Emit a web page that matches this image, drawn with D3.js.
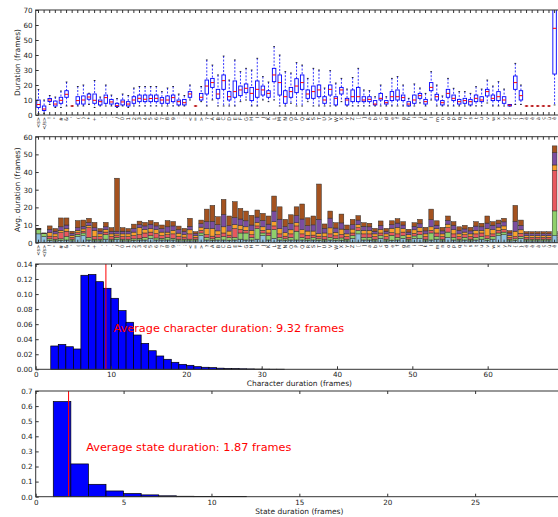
<!DOCTYPE html>
<html>
<head>
<meta charset="utf-8">
<script src="https://cdnjs.cloudflare.com/ajax/libs/d3/7.8.5/d3.min.js"></script>
<style>
body { margin: 0; background: #fff; overflow: hidden; }
text { font-family: "DejaVu Sans", sans-serif; }
</style>
</head>
<body>
<script>
var width = 558;
var height = 517;

// character classes (last one falls outside the cropped figure)
var chars = ["<s>", "</s>", "!", "\"", "#", "&", "'", "(", ")", "*", "+", ",", "-", ".", "/",
    "0", "1", "2", "3", "4", "5", "6", "7", "8", "9", ":", ";", "<", "=", ">", "?",
    "A", "B", "C", "D", "E", "F", "G", "H", "I", "J", "K", "L", "M", "N", "O", "P", "Q", "R",
    "S", "T", "U", "V", "W", "X", "Y", "Z", "[", "]",
    "a", "b", "c", "d", "e", "f", "g", "h", "i", "j", "k", "l", "m", "n", "o", "p", "q", "r",
    "s", "t", "u", "v", "w", "x", "y", "z", "{", "}", "é", "è", "à", "ç", "ù", "ê", "ô"];

// box plot stats per character (frames)
var boxLo = [1,1,7,5,5,6,6,6,6,7, 5,6,6,6,5,6,5,6,6,6, 6,6,6,6,6,6,6,10,6,8.9,
    6,10,6,6,6,6,8.9,10,6,6, 10,8.9,10,6,6,7.8,6,6,8.9,6, 6,6,6,6,8.9,6,6,6,6,6,
    6,6,6,6,6,6,6,6,8,6, 10,6,6,6,6,6,6,6,6,6, 8,6,6,6,6,7,7,6,6,6, 6,6,6.7,6];
var boxQ1 = [5,3,9,6,7.8,11.8,6,7.3,7.3,10.5, 7.8,6.7,7.8,7.3,5.6,6.7,6,7.8,8.9,8.9,
    8.9,8.9,7.8,7.8,8.9,6.7,6.7,11.8,6,10, 14,18.4,11.1,17.1,10,11.8,12.9,14.9,9.6,11.8,
    13.3,11.8,22.2,13.3,7.8,11.8,14.9,17.1,11.1,11.1, 12.2,7.8,13.3,6.7,14,6.7,8.9,8.9,8.9,8.9,
    6.7,10,7.3,9.6,10,9.6,6,7.8,11.1,7.3, 16.2,10,6.7,11.8,9.6,7.3,7.8,6.7,8.9,8.9,
    12.7,9.6,9.6,7.8,6,17.1,10,6,6,6, 6,6,27.3,6];
var boxMed = [7,4,10,7.3,9.8,13.8,6,9.6,10,12, 9.8,8.9,11.6,8.7,6.2,8.7,7.3,10,11.1,10.5,
    11,11.1,10,10,11.6,8.9,8.2,14,6,11.8, 19.3,21.6,14,22.9,12.2,15.6,16.7,17.8,14.4,17.1,
    16.7,14.4,26.7,21.6,12.2,15.6,19.3,21.6,14,15.6, 16.7,10,17.1,11.1,16.7,10,12.2,12.2,10,10.4,
    7.3,11.1,8.2,12.2,12.2,11.6,7.3,10,12.9,8.9, 18.4,12.2,8.2,14.4,11.1,8.9,9.6,8.9,11.1,10,
    15.6,11.1,12.2,10,6.5,21.6,12.9,6,6,6, 6,6,57.8,6];
var boxQ3 = [10,6,11,9.3,11.8,16.2,6,12.2,12.7,14, 14,10,13.3,10.4,7.8,10,8.9,12.2,13.3,13.3,
    13.3,13.3,11.6,12.7,13.3,10,10.4,15.6,6,14.4, 23.3,24.4,17.1,26.7,15.6,22.7,19.3,20.7,18.4,22.7,
    19.3,16.2,31.1,26.7,16.2,18.4,24.2,26.7,16.7,19.3, 20,12.2,20,12.2,18.4,11.1,16.7,18.4,12.2,12.2,
    9.6,14.4,9.6,15.6,16.7,13.3,8.9,13.3,14.4,10.4, 21.6,13.8,9.6,17.1,13.3,10.4,11.1,10.4,13.3,12.2,
    17.1,13.3,15.6,12.2,7,26,16.2,6,6,6, 6,6,75,6];
var boxHi = [17,10,13,12,16,22,6,19,20,14.5, 23,12,20,13.3,11,14,13,18,19,19,
    19,19,15.6,18,19,14,13,20,6,19, 36.7,33.3,26.7,39.3,23.3,36.7,28.9,31.1,30,37.8,
    25.6,22,45.6,40,28.9,28,34.9,33.3,24.4,31.1, 30,18,29.6,21.3,24.4,17.3,25,31.1,16.7,16.2,
    12.2,20,12.2,24.4,25.6,20,11.1,20.7,18,14.4, 28.9,20,12.7,24.4,17.8,15.6,15.6,14.4,18.9,17.3,
    23.3,19.3,22.2,17.3,7,34.4,20,6,6,6, 6,6,90,6];

// average duration of each HMM state per character (frames)
var state1 = [5,3.5,1.2,1,1.2,1.5,1,3.5,4,1.5, 1,1,2,1,2,1,1,1.2,1.5,1.5, 2.5,1.5,1.5,1.5,1.5,1,1,1,1,4,
    1.5,1.2,1.5,1.5,1.3,1.5,2,1.5,1.5,2, 4,1.5,2.5,1.5,1.2,1.5,1.5,1.5,1.2,1.5, 1.2,1,1.5,1.2,1.2,1,2.5,5,1.5,1.5,
    1,2.5,1,1.2,1.5,2.5,1,2.5,2.5,1, 1.5,2,1,3,1.5,1,1.5,1,1.5,2, 1.2,2,4,4.5,1,1.2,2.5,1,1,1, 1,1,4,1];
var state2 = [2.6,1.6,1,1,1,2,1,1.2,1.5,1.5, 1,1,2.5,1,1,1,1,1,1,1.5, 1.5,1.2,1,1.5,1,1,1,1,1,1.5,
    1.5,1,1.5,2,1.5,1.5,3.5,4,1.5,6, 1.5,2.5,5,1.5,1,1.5,5,1.5,1,1.3, 1,1,1.5,1.2,1.5,1,1.5,2,1.5,1.5,
    1,1.5,1,3,1.5,1.5,1,1.3,2,1, 4,1.5,1,3,1.5,1,1.5,1,1.5,1.5, 1.2,1.5,1.5,1.5,1,1,1,1,1,1, 1,1,14,1];
var state3 = [0.1,0.1,1.5,1.5,3.5,3,1,1,1,5.5, 1.5,1.5,1.5,1.5,1,1.5,1.5,1.8,2,2.5, 2,2.5,1.5,1.5,2.5,1.5,1.2,3,1,1.5,
    1.5,1.5,1.5,2,1.5,5,2,1.5,1.5,1.5, 1.5,1.5,2,2,1.5,2,3,2,2,1.5, 1.5,1.5,2,1.5,2,1.5,1.5,1.5,2,2,
    1.5,1.5,1.5,1.5,2,2,1,1.5,2,1.5, 1.5,2,1.5,2.5,2,1.5,1.5,1.5,2,2, 1.5,1.5,1.5,1.5,1,1.3,1.8,1,1,1, 1,1,23,1];
var state4 = [0.1,0.1,2,1.5,1.3,1.5,1.2,1.3,1.3,1.3, 3.5,1.5,1.5,1.5,1,1.5,1.5,2,4,2, 2,2.3,2,1.5,2,1.9,1.5,2.3,1,1.8,
    3.5,4.4,2.2,3.5,2.3,2.2,2.4,2,2.5,2, 2,2,2.4,3,2,2.3,1.8,2.4,2.4,2.3, 1.5,2,3.4,2,3,1.5,2.2,1.8,2,2,
    1.5,2,1.5,2.5,3.6,2,1.5,2,2,1.5, 2,2.4,1.5,2,2.4,1.5,1.5,1.5,2,1.5, 4.2,2.4,1.8,2,1.2,3,2,1,1,1, 1,1,3,1];
var state5 = [0.1,0.1,1.8,1.5,2,2,1.1,1.5,1.5,1.5, 1.5,1.5,1.5,1.5,1.5,1.5,1.5,2,1.7,2, 2.5,2,2,3,2.5,2,1.7,2,1.1,2,
    4,4,3.5,7,3,4,3.5,3.4,3,3, 3.6,3,6,5.3,3.5,3.5,4,6,3,3.5, 8,2.6,5.5,2.4,3.5,2.5,2.5,2.5,2.3,2,
    1.5,2.3,1.5,2,2.5,2,1.5,2,2.2,1.7, 4,2,1.7,2.1,2.5,2,1.8,1.7,2.4,2, 3,2.5,2,2.3,1.3,5.6,2.5,1.1,1.1,1.1, 1.1,1.1,7,1.1];
var state6 = [0.1,0.1,2,1.5,5,4,1.2,4,3.5,2.5, 3,1.5,2.5,2,30,2,1.5,2.5,2,2, 2,2,2,3.5,2.5,2,1.7,4.5,1.1,2,
    7,9,4.5,8.5,5.5,9,6,5.5,5.5,4, 4,4.6,8.5,7,4,5,5,8.5,4.5,5, 20,2.5,4,3,5,2.5,3,2.5,2,2,
    1.6,2.5,1.6,2.2,2.5,1.9,1.6,2,2.5,2, 6,2.5,2,2.5,2,2,2,2,2.5,2, 4,2,2,2,1.3,9,3,1.1,1.1,1.1, 1.1,1.1,3.8,1.1];
var stateColors = ["#8ec1e0", "#8fd06b", "#e8585e", "#f8a12c", "#7b4da0", "#a4521f"];

// normalised histograms
var charBins = [2,3,4,5,6,7,8,9,10,11,12,13,14,15,16,17,18,19,20,21,22,23,24,25,26,27,28,29,30,31,32];
var charDensity = [0.031,0.033,0.030,0.027,0.125,0.126,0.1165,0.1077,0.0944,0.078,0.0625,0.0456,0.0345,
    0.0247,0.0177,0.0133,0.0093,0.0066,0.0053,0.0035,0.0027,0.0022,0.0015,0.0011,0.0009,0.0007,0.0005,
    0.0003,0.0002,0.0001,0.0001];
var charMean = 9.32;
var stateBins = [1,2,3,4,5,6,7,8,9,10,11];
var stateDensity = [0.63,0.217,0.082,0.038,0.021,0.012,0.006,0.003,0.0015,0.001,0.0005];
var stateMean = 1.87;

var left = 35.7, right = 563;

var svg = d3.select("body")
    .append("svg")
    .attr("width", width)
    .attr("height", height);

var defs = svg.append("defs");

function clip(id, top, bottom) {
    defs.append("clipPath").attr("id", id)
        .append("rect")
        .attr("x", left).attr("y", top)
        .attr("width", right - left).attr("height", bottom - top);
}

function frame(top, bottom) {
    svg.append("rect")
        .attr("x", left).attr("y", top)
        .attr("width", right - left).attr("height", bottom - top)
        .attr("fill", "none")
        .attr("stroke", "#333")
        .attr("stroke-width", 1);
}

function yAxis(y, ticks, fmt) {
    var g = svg.append("g")
        .attr("transform", "translate(" + left + ",0)")
        .call(d3.axisLeft(y).tickValues(ticks).tickFormat(fmt).tickSizeInner(-3).tickSizeOuter(0).tickPadding(3));
    g.select(".domain").remove();
    g.selectAll("text").style("font-size", "7.2px").attr("fill", "#222");
    g.selectAll("line").attr("stroke", "#333");
}

function yLabel(text, top, bottom) {
    svg.append("text")
        .attr("transform", "translate(17," + ((top + bottom) / 2) + ") rotate(-90)")
        .attr("text-anchor", "middle")
        .attr("dy", "0.35em")
        .style("font-size", "7.5px")
        .attr("fill", "#222")
        .text(text);
}

var x = d3.scaleBand()
    .domain(d3.range(chars.length))
    .range([left, right]);

function categoryAxis(top, bottom) {
    var gb = svg.append("g")
        .attr("transform", "translate(0," + bottom + ")")
        .call(d3.axisBottom(x).tickFormat(function(i) { return chars[i]; }).tickSizeInner(-3).tickSizeOuter(0).tickPadding(2));
    gb.select(".domain").remove();
    gb.selectAll("line").attr("stroke", "#333");
    gb.selectAll("text")
        .style("font-size", "5px")
        .attr("fill", "#222")
        .attr("text-anchor", "end")
        .attr("transform", "rotate(-90)")
        .attr("x", -2)
        .attr("y", 0)
        .attr("dy", "0.35em");
    // the figure is cropped: drop labels of ticks beyond the right border of the picture
    gb.selectAll(".tick")
        .filter(function(i) { return x(i) + x.bandwidth() / 2 > width - 2; })
        .select("text").remove();
    var gt = svg.append("g")
        .attr("transform", "translate(0," + top + ")")
        .call(d3.axisTop(x).tickFormat("").tickSizeInner(-3).tickSizeOuter(0));
    gt.select(".domain").remove();
    gt.selectAll("line").attr("stroke", "#333");
}

// ---- panel 1: box plots
var y1 = d3.scaleLinear().domain([0, 70]).range([115, 10]);
clip("clip1", 10, 115);
var boxes = svg.append("g").attr("clip-path", "url(#clip1)")
    .selectAll("g")
    .data(d3.range(chars.length))
    .enter()
    .append("g");
var bw = x.bandwidth() * 0.62;
boxes.append("line")
    .attr("x1", function(i) { return x(i) + x.bandwidth() / 2; })
    .attr("x2", function(i) { return x(i) + x.bandwidth() / 2; })
    .attr("y1", function(i) { return y1(boxHi[i]); })
    .attr("y2", function(i) { return y1(boxQ3[i]); })
    .attr("stroke", "#0000ff").attr("stroke-width", 0.8).attr("stroke-dasharray", "2,1.5");
boxes.append("line")
    .attr("x1", function(i) { return x(i) + x.bandwidth() / 2; })
    .attr("x2", function(i) { return x(i) + x.bandwidth() / 2; })
    .attr("y1", function(i) { return y1(boxQ1[i]); })
    .attr("y2", function(i) { return y1(boxLo[i]); })
    .attr("stroke", "#0000ff").attr("stroke-width", 0.8).attr("stroke-dasharray", "2,1.5");
[boxHi, boxLo].forEach(function(arr) {
    boxes.append("line")
        .attr("x1", function(i) { return x(i) + x.bandwidth() / 2 - bw / 4; })
        .attr("x2", function(i) { return x(i) + x.bandwidth() / 2 + bw / 4; })
        .attr("y1", function(i) { return y1(arr[i]); })
        .attr("y2", function(i) { return y1(arr[i]); })
        .attr("stroke", "#000").attr("stroke-width", 0.8);
});
boxes.append("rect")
    .attr("x", function(i) { return x(i) + (x.bandwidth() - bw) / 2; })
    .attr("width", bw)
    .attr("y", function(i) { return y1(boxQ3[i]); })
    .attr("height", function(i) { return y1(boxQ1[i]) - y1(boxQ3[i]); })
    .attr("fill", "none")
    .attr("stroke", "#0000ff").attr("stroke-width", 0.9);
boxes.append("line")
    .attr("x1", function(i) { return x(i) + (x.bandwidth() - bw) / 2; })
    .attr("x2", function(i) { return x(i) + (x.bandwidth() + bw) / 2; })
    .attr("y1", function(i) { return y1(boxMed[i]); })
    .attr("y2", function(i) { return y1(boxMed[i]); })
    .attr("stroke", "#ff0000").attr("stroke-width", 1);
frame(10, 115);
yAxis(y1, d3.range(0, 71, 10), d3.format("d"));
categoryAxis(10, 115);
yLabel("Duration (frames)", 10, 115);

// ---- panel 2: stacked average state durations
var y2 = d3.scaleLinear().domain([0, 60]).range([242.7, 136.7]);
var series = [state1, state2, state3, state4, state5, state6];
var table = chars.map(function(c, i) {
    var row = {i: i};
    series.forEach(function(s, k) { row["s" + k] = s[i]; });
    return row;
});
var stacked = d3.stack().keys(["s0", "s1", "s2", "s3", "s4", "s5"])(table);
clip("clip2", 136.7, 242.7);
svg.append("g").attr("clip-path", "url(#clip2)")
    .selectAll("g")
    .data(stacked)
    .enter()
    .append("g")
    .attr("fill", function(d, k) { return stateColors[k]; })
    .selectAll("rect")
    .data(function(d) { return d; })
    .enter()
    .append("rect")
    .attr("x", function(d) { return x(d.data.i) + x.bandwidth() * 0.08; })
    .attr("width", x.bandwidth() * 0.84)
    .attr("y", function(d) { return y2(d[1]); })
    .attr("height", function(d) { return y2(d[0]) - y2(d[1]); })
    .attr("stroke", "#2a2a2a")
    .attr("stroke-width", 0.5);
frame(136.7, 242.7);
yAxis(y2, d3.range(0, 61, 10), d3.format("d"));
categoryAxis(136.7, 242.7);
yLabel("Avg. duration (frames)", 136.7, 242.7);

// ---- histograms
function histogram(top, bottom, xMax, xTicks, yMax, yTicks, bins, dens, mean, textY, label, xlab) {
    var hx = d3.scaleLinear().domain([0, xMax]).range([left, right]);
    var hy = d3.scaleLinear().domain([0, yMax]).range([bottom, top]);
    svg.append("g")
        .selectAll("rect")
        .data(bins)
        .enter()
        .append("rect")
        .attr("x", function(b) { return hx(b); })
        .attr("width", function(b) { return hx(b + 1) - hx(b); })
        .attr("y", function(b, k) { return hy(dens[k]); })
        .attr("height", function(b, k) { return bottom - hy(dens[k]); })
        .attr("fill", "#0000ff")
        .attr("stroke", "#000")
        .attr("stroke-width", 0.7);
    svg.append("line")
        .attr("x1", hx(mean)).attr("x2", hx(mean))
        .attr("y1", top).attr("y2", bottom)
        .attr("stroke", "#ff0000").attr("stroke-width", 1);
    svg.append("text")
        .attr("x", hx(mean + 1))
        .attr("y", hy(textY))
        .attr("fill", "#ff0000")
        .style("font-size", "11.3px")
        .text(label);
    frame(top, bottom);
    yAxis(hy, yTicks, function(v) { return yMax < 0.5 ? d3.format(".2f")(v) : d3.format(".1f")(v); });
    var gb = svg.append("g")
        .attr("transform", "translate(0," + bottom + ")")
        .call(d3.axisBottom(hx).tickValues(xTicks).tickFormat(d3.format("d")).tickSizeInner(-3).tickSizeOuter(0).tickPadding(3));
    gb.select(".domain").remove();
    gb.selectAll("line").attr("stroke", "#333");
    gb.selectAll("text").style("font-size", "7.2px").attr("fill", "#222");
    var gt = svg.append("g")
        .attr("transform", "translate(0," + top + ")")
        .call(d3.axisTop(hx).tickValues(xTicks).tickFormat("").tickSizeInner(-3).tickSizeOuter(0));
    gt.select(".domain").remove();
    gt.selectAll("line").attr("stroke", "#333");
    svg.append("text")
        .attr("x", (left + right) / 2)
        .attr("y", bottom + 17)
        .attr("text-anchor", "middle")
        .style("font-size", "7.5px")
        .attr("fill", "#222")
        .text(xlab);
}

histogram(264, 369.3, 70, [0, 10, 20, 30, 40, 50, 60], 0.14,
    [0, 0.02, 0.04, 0.06, 0.08, 0.10, 0.12, 0.14], charBins, charDensity, charMean, 0.05,
    "Average character duration: " + charMean + " frames", "Character duration (frames)");
histogram(391, 496.7, 30, [0, 5, 10, 15, 20, 25], 0.7,
    [0, 0.1, 0.2, 0.3, 0.4, 0.5, 0.6, 0.7], stateBins, stateDensity, stateMean, 0.3,
    "Average state duration: " + stateMean + " frames", "State duration (frames)");
</script>
</body>
</html>
